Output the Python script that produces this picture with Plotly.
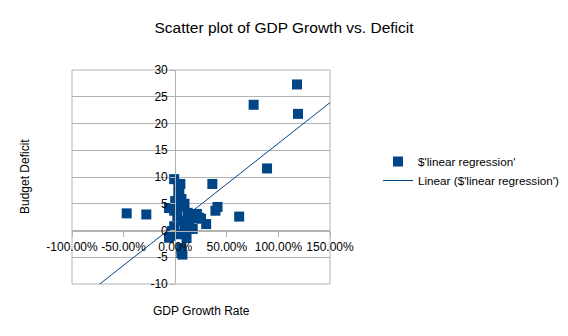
import plotly.graph_objects as go

# GDP growth rate (fraction) and budget deficit
gdp_growth = [-0.47, -0.28, 1.18, 1.19, 0.76, 0.89, 0.36, -0.01, 0.03, 0.41, 0.39, 0.62,
              0.30, 0.23, 0.19, 0.07, -0.06, 0.05, 0.03, 0.06, 0.09, -0.06, -0.01, 0.12,
              0.02, 0.17, 0.21, 0.25, 0.14, 0.07, -0.01, 0.09, 0.17, 0.04, 0.11, -0.03,
              0.06, 0.06, -0.05, 0.04, 0.00, 0.08]
budget_deficit = [3.2, 3.0, 27.3, 21.8, 23.5, 11.6, 8.7, 9.6, 8.6, 4.4, 3.7, 2.6,
                  1.2, 2.4, 2.7, -4.5, -1.35, 8.7, 6.9, 5.9, 5.0, 4.2, 3.7, 3.3,
                  2.7, 2.3, 3.1, 2.2, 1.4, 1.8, 0.8, 0.3, 0.3, -0.7, -1.4, -0.1,
                  -3.3, -4.2, -1.0, 7.6, 5.5, 4.5]

# Linear trend line as drawn in the chart (slope, intercept)
trend_slope = 15.2
trend_intercept = 1.1

x_range = [-1.0, 1.5]
y_range = [-10, 30]
x_tick_vals = [-1.0, -0.5, 0.0, 0.5, 1.0, 1.5]
x_tick_text = ["-100.00%", "-50.00%", "0.00%", "50.00%", "100.00%", "150.00%"]
y_tick_vals = [-10, -5, 0, 5, 10, 15, 20, 25, 30]
y_tick_text = ["-10", "-5", "0", "5", "10", "15", "20", "25", "30"]

series_name = "$'linear regression'"
trend_name = "Linear ($'linear regression')"

BLUE = "#004586"
GRID = "#b3b3b3"
FONT = "Liberation Sans, Arial, sans-serif"

trend_x = x_range
trend_y = [trend_slope * v + trend_intercept for v in trend_x]

fig = go.Figure()
fig.add_trace(go.Scatter(
    x=gdp_growth, y=budget_deficit, mode="markers", name=series_name,
    marker=dict(symbol="square", size=10, color=BLUE, line=dict(width=0)),
    cliponaxis=True,
))
fig.add_trace(go.Scatter(
    x=trend_x, y=trend_y, mode="lines", name=trend_name,
    line=dict(color=BLUE, width=1),
))

fig.add_shape(type="rect", xref="x domain", yref="y domain", x0=0, x1=1, y0=0, y1=1,
              line=dict(color=GRID, width=1), layer="below")

fig.update_layout(
    width=568, height=336,
    margin=dict(l=72, r=238, t=70, b=52, autoexpand=False),
    paper_bgcolor="white", plot_bgcolor="white",
    font=dict(family=FONT, size=12, color="black"),
    title=dict(text="Scatter plot of GDP Growth vs. Deficit", x=0.5, xref="container",
               xanchor="center", y=1 - 28 / 336, yref="container", yanchor="middle",
               font=dict(family=FONT, size=15.5, color="black")),
    xaxis=dict(range=x_range, anchor="free", position=0.25, showgrid=False, zeroline=False,
               showline=True, linecolor=GRID, linewidth=1, tickangle=0,
               tickvals=x_tick_vals, ticktext=x_tick_text, ticks="outside", ticklen=5,
               tickcolor=GRID, tickfont=dict(family=FONT, size=12, color="black")),
    yaxis=dict(range=y_range, anchor="free", position=0.4, showgrid=True, gridcolor=GRID,
               gridwidth=1, zeroline=False, showline=True, linecolor=GRID, linewidth=1,
               tickvals=y_tick_vals, ticktext=y_tick_text, ticks="outside", ticklen=5,
               tickcolor=GRID, tickfont=dict(family=FONT, size=12, color="black")),
    legend=dict(x=378 / 568, y=1 - 147 / 336, xref="container", yref="container",
                xanchor="left", yanchor="top", bgcolor="rgba(0,0,0,0)",
                font=dict(family=FONT, size=11.7, color="black"), borderwidth=0),
    annotations=[
        dict(text="GDP Growth Rate", xref="paper", yref="paper", x=0.5, y=(284 - 311) / 214,
             xanchor="center", yanchor="middle", showarrow=False,
             font=dict(family=FONT, size=12, color="black")),
        dict(text="Budget Deficit", xref="paper", yref="paper", x=(25 - 72) / 258, y=0.5,
             xanchor="center", yanchor="middle", textangle=-90, showarrow=False,
             font=dict(family=FONT, size=12, color="black")),
    ],
)

fig.write_html("out.html")
